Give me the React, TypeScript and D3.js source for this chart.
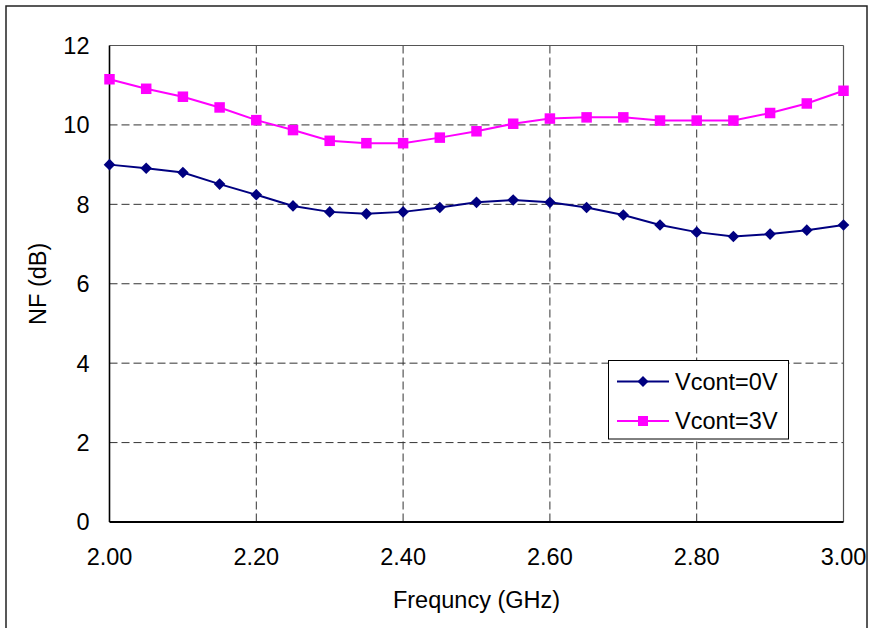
import React from "react";
import * as d3 from "d3";

// Noise figure vs. frequency for two control voltages
const freqGHz = [2.0, 2.05, 2.1, 2.15, 2.2, 2.25, 2.3, 2.35, 2.4, 2.45, 2.5, 2.55, 2.6, 2.65, 2.7, 2.75, 2.8, 2.85, 2.9, 2.95, 3.0];
const nfVcont0 = [9.0, 8.91, 8.8, 8.51, 8.24, 7.96, 7.81, 7.76, 7.81, 7.92, 8.05, 8.11, 8.05, 7.92, 7.73, 7.48, 7.3, 7.19, 7.25, 7.35, 7.48];
const nfVcont3 = [11.15, 10.91, 10.71, 10.44, 10.12, 9.87, 9.6, 9.54, 9.54, 9.68, 9.84, 10.03, 10.16, 10.19, 10.19, 10.11, 10.11, 10.11, 10.3, 10.54, 10.86];
const xTicks = [2.0, 2.2, 2.4, 2.6, 2.8, 3.0];
const yTicks = [0, 2, 4, 6, 8, 10, 12];
const seriesNames = ["Vcont=0V", "Vcont=3V"];

const W = 869;
const H = 628;
const plot = { left: 109.5, right: 843.5, top: 45.5, bottom: 522 };
const FONT = "'Liberation Sans', Arial, Helvetica, sans-serif";
const FS = 23.5;
const BLUE = "#000080";
const PINK = "#FF00FF";

function Diamond({ x, y, r, fill }: { x: number; y: number; r: number; fill: string }) {
  return <path d={`M${x},${y - r}L${x + r},${y}L${x},${y + r}L${x - r},${y}Z`} fill={fill} />;
}

function Square({ x, y, s, fill }: { x: number; y: number; s: number; fill: string }) {
  return <rect x={x - s / 2} y={y - s / 2} width={s} height={s} fill={fill} />;
}

export default function App() {
  const x = d3.scaleLinear().domain([2.0, 3.0]).range([plot.left, plot.right]);
  const y = d3.scaleLinear().domain([0, 12]).range([plot.bottom, plot.top]);
  const line = d3
    .line<number>()
    .x((_, i) => x(freqGHz[i]))
    .y((d) => y(d));

  const legend = { x: 608.5, y: 360.5, w: 180, h: 78.5 };
  const rows = [381.5, 421];

  return (
    <svg
      width={W}
      height={H}
      style={{ position: "absolute", left: 0, top: 0, background: "#fff" }}
      fontFamily={FONT}
    >
      <rect x={0} y={0} width={W} height={H} fill="#fff" />
      {/* outer chart frame */}
      <rect x={6} y={6} width={861} height={H + 10} fill="none" stroke="#222" strokeWidth={1.5} />

      {/* gridlines */}
      {yTicks
        .filter((t) => t > 0 && t < 12)
        .map((t) => (
          <line
            key={"gy" + t}
            x1={plot.left}
            x2={plot.right}
            y1={y(t)}
            y2={y(t)}
            stroke="#333"
            strokeWidth={1}
            strokeDasharray="8,4"
          />
        ))}
      {xTicks
        .filter((t) => t > 2.0 && t < 3.0)
        .map((t) => (
          <line
            key={"gx" + t}
            x1={x(t)}
            x2={x(t)}
            y1={plot.top}
            y2={plot.bottom}
            stroke="#333"
            strokeWidth={1}
            strokeDasharray="8,4"
          />
        ))}

      {/* plot border: top and right */}
      <line x1={plot.left} x2={plot.right} y1={plot.top} y2={plot.top} stroke="#555" strokeWidth={1.2} />
      <line x1={plot.right} x2={plot.right} y1={plot.top} y2={plot.bottom} stroke="#555" strokeWidth={1.2} />
      {/* axes */}
      <line x1={plot.left} x2={plot.left} y1={plot.top} y2={plot.bottom} stroke="#000" strokeWidth={1.6} />
      <line x1={plot.left} x2={plot.right} y1={plot.bottom} y2={plot.bottom} stroke="#000" strokeWidth={2} />

      {/* tick labels */}
      {yTicks.map((t) => (
        <text key={"ty" + t} x={89.5} y={y(t)} dy="0.36em" textAnchor="end" fontSize={FS} fill="#000">
          {t}
        </text>
      ))}
      {xTicks.map((t) => (
        <text key={"tx" + t} x={x(t)} y={565} textAnchor="middle" fontSize={FS} fill="#000">
          {t.toFixed(2)}
        </text>
      ))}

      {/* axis titles */}
      <text x={(plot.left + plot.right) / 2} y={608} textAnchor="middle" fontSize={FS} fill="#000">
        Frequncy (GHz)
      </text>
      <text
        transform={`translate(46,${(plot.top + plot.bottom) / 2}) rotate(-90)`}
        textAnchor="middle"
        fontSize={FS}
        fill="#000"
      >
        NF (dB)
      </text>

      {/* series */}
      <path d={line(nfVcont0) || ""} fill="none" stroke={BLUE} strokeWidth={2} />
      <path d={line(nfVcont3) || ""} fill="none" stroke={PINK} strokeWidth={2} />
      {nfVcont0.map((v, i) => (
        <Diamond key={"d" + i} x={x(freqGHz[i])} y={y(v)} r={5.8} fill={BLUE} />
      ))}
      {nfVcont3.map((v, i) => (
        <Square key={"s" + i} x={x(freqGHz[i])} y={y(v)} s={10.5} fill={PINK} />
      ))}

      {/* legend */}
      <rect x={legend.x} y={legend.y} width={legend.w} height={legend.h} fill="#fff" stroke="#000" strokeWidth={1} />
      {seriesNames.map((name, i) => {
        const color = i === 0 ? BLUE : PINK;
        const cy = rows[i];
        return (
          <g key={name}>
            <line x1={617} x2={669} y1={cy} y2={cy} stroke={color} strokeWidth={2} />
            {i === 0 ? (
              <Diamond x={643} y={cy} r={5.5} fill={color} />
            ) : (
              <Square x={643} y={cy} s={10} fill={color} />
            )}
            <text x={675} y={cy + 8} fontSize={FS} fill="#000">
              {name}
            </text>
          </g>
        );
      })}
    </svg>
  );
}
